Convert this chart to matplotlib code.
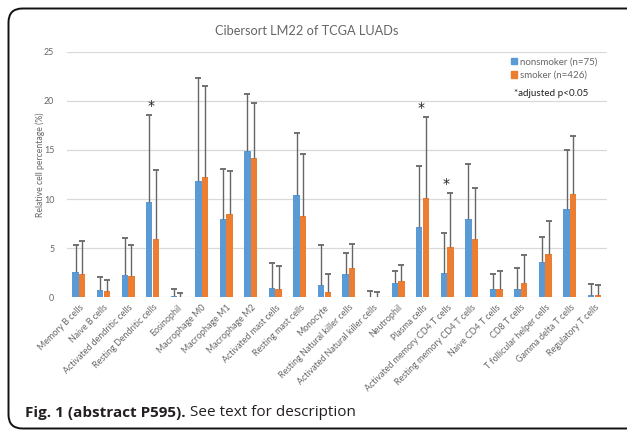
import matplotlib
matplotlib.use('Agg')
import matplotlib.pyplot as plt
import numpy as np
from matplotlib.patches import FancyBboxPatch, Patch
from matplotlib.transforms import IdentityTransform

# Cell types on the x axis
cell_types = [
    'Memory B cells', 'Naive B cells', 'Activated dendritic cells',
    'Resting Dendritic cells', 'Eosinophil', 'Macrophage M0', 'Macrophage M1',
    'Macrophage M2', 'Activated mast cells', 'Resting mast cells', 'Monocyte',
    'Resting Natural killer cells', 'Activated Natural killer cells',
    'Neutrophil', 'Plasma cells', 'Activated memory CD4 T cells',
    'Resting memory CD4 T cells', 'Naive CD4 T cells', 'CD8 T cells',
    'T follicular helper cells', 'Gamma delta T cells', 'Regulatory T cells',
]

# Mean relative cell percentage (%)
nonsmoker_mean = [2.54, 0.77, 2.30, 9.68, 0.10, 11.80, 8.00, 14.94, 0.98, 10.37, 1.22,
                  2.37, 0.05, 1.48, 7.20, 2.50, 7.93, 0.84, 0.88, 3.56, 8.97, 0.23]
smoker_mean = [2.37, 0.67, 2.16, 5.96, 0.02, 12.25, 8.47, 14.23, 0.88, 8.30, 0.50,
               3.00, 0.01, 1.66, 10.09, 5.08, 5.89, 0.84, 1.48, 4.40, 10.50, 0.23]

# Upper error bars (SD)
nonsmoker_sd = [2.81, 1.29, 3.76, 8.92, 0.70, 10.50, 5.10, 5.76, 2.54, 6.36, 4.08,
                2.10, 0.59, 1.19, 6.20, 4.03, 5.65, 1.56, 2.12, 2.57, 6.00, 1.12]
smoker_sd = [3.38, 1.09, 3.12, 7.04, 0.45, 9.25, 4.36, 5.52, 2.33, 6.30, 1.87,
             2.42, 0.49, 1.59, 8.31, 5.52, 5.19, 1.80, 2.79, 3.35, 5.92, 0.99]

# Groups with adjusted p < 0.05
significant = ['Resting Dendritic cells', 'Plasma cells', 'Activated memory CD4 T cells']

BLUE = '#5B9BD5'
ORANGE = '#ED7D31'
GRAY = '#666666'
ERR = '#666666'

plt.rcParams['font.family'] = ['Lato', 'DejaVu Sans']

W, H = 627, 430
fig = plt.figure(figsize=(W / 100, H / 100), dpi=100)
ax = fig.add_axes([66.7 / W, 1 - 297.3 / H, 540 / W, 245.6 / H])

x = np.arange(len(cell_types))
bw = 0.26
off = 0.135
groups = [(x - off, nonsmoker_mean, nonsmoker_sd, BLUE, 'nonsmoker (n=75)'),
          (x + off, smoker_mean, smoker_sd, ORANGE, 'smoker (n=426)')]
for xs, mean, sd, color, label in groups:
    mean = np.array(mean)
    top = mean + np.array(sd)
    ax.bar(xs, mean, width=bw, color=color, zorder=3, label=label)
    ax.vlines(xs, mean, top, color=ERR, lw=1.0, zorder=4)
    ax.plot(xs, top, ls='none', marker='_', ms=4.5, mew=1.3, color=ERR, zorder=4)

for name in significant:
    i = cell_types.index(name)
    peak = max(nonsmoker_mean[i] + nonsmoker_sd[i], smoker_mean[i] + smoker_sd[i])
    ax.text(i - 0.05, peak + 0.2, '*', ha='center', va='bottom', fontsize=10,
            color='#222222', family='DejaVu Sans')

ax.set_xlim(-0.5, len(cell_types) - 0.5)
ax.set_ylim(0, 25)
ax.set_yticks(np.arange(0, 26, 5))
ax.grid(axis='y', color='#D9D9D9', lw=0.9, zorder=0)
ax.set_axisbelow(True)
for s in ax.spines.values():
    s.set_visible(False)
ax.tick_params(length=0, colors=GRAY, labelsize=6.4)
ax.tick_params(axis='y', pad=9)
ax.set_xticks(x)
ax.set_xticklabels(cell_types, rotation=45, ha='right', rotation_mode='anchor')
ax.tick_params(axis='x', pad=4)
ax.set_ylabel('Relative cell percentage (%)', color=GRAY, fontsize=6.2, va='center')
ax.yaxis.set_label_coords((40.5 - 66.7) / 540, 0.54)

fig.text(306.7 / W, 1 - 30.7 / H, 'Cibersort LM22 of TCGA LUADs', ha='center',
         va='center', fontsize=9.2, color=GRAY)

handles = [Patch(color=BLUE, label='nonsmoker (n=75)'),
           Patch(color=ORANGE, label='smoker (n=426)')]
ax.legend(handles=handles, loc='upper left', bbox_to_anchor=(511 / W, 1 - 57.5 / H),
          bbox_transform=fig.transFigure, frameon=False, fontsize=7,
          handlelength=0.6, handleheight=0.6, handletextpad=0.35,
          labelspacing=0.45, borderpad=0, borderaxespad=0, labelcolor=GRAY)
fig.text(514 / W, 1 - 93.3 / H, '*adjusted p<0.05', ha='left', va='center',
         fontsize=7.1, color='#222222')

# rounded frame round the figure
frame = FancyBboxPatch((8.5, H - 428.5), 660, 420,
                       boxstyle='round,pad=0,rounding_size=14',
                       transform=IdentityTransform(), fill=False,
                       ec='#111111', lw=1.4)
fig.patches.append(frame)

# caption
cap_y = 1 - 413 / H
t1 = fig.text(25 / W, cap_y, 'Fig. 1 (abstract P595).', ha='left', va='center',
              fontsize=11, weight='bold', color='#231F20', family='Open Sans')
renderer = fig.canvas.get_renderer()
bb = t1.get_window_extent(renderer)
fig.text(bb.x1 / W + 4 / W, cap_y, 'See text for description', ha='left', va='center',
         fontsize=11, color='#231F20', family='Open Sans')

fig.savefig('out.png', dpi=100)
